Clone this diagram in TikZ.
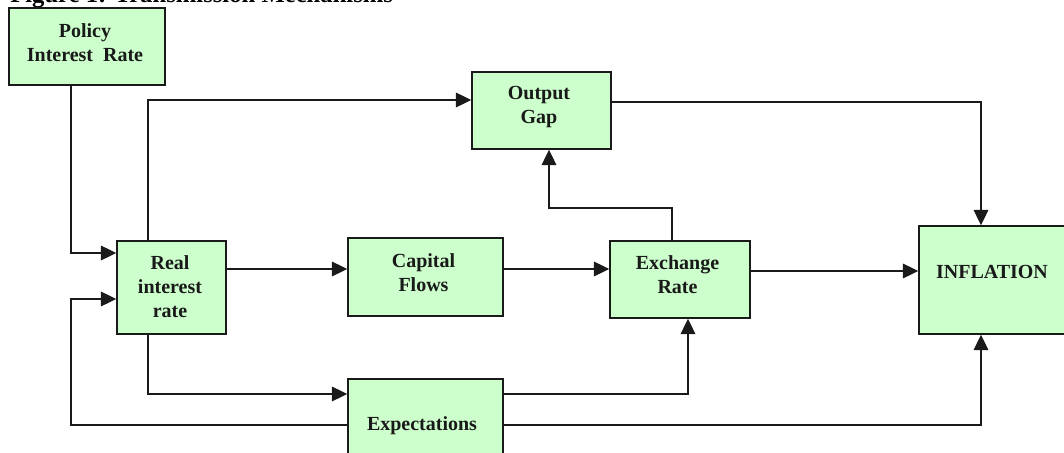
\documentclass[tikz,border=0pt]{standalone}
\usepackage{fontspec}
\setmainfont{Liberation Serif}
\usetikzlibrary{arrows.meta,fit}
\definecolor{boxgreen}{HTML}{CCFFCC}
\definecolor{edge}{HTML}{1A1A1A}
\begin{document}
\begin{tikzpicture}[x=0.75pt,y=-0.75pt,
  box/.style={draw=edge, line width=1.1pt, fill=boxgreen, inner sep=0pt},
  lbl/.style={font=\bfseries\fontsize{15}{18}\selectfont, align=center, inner sep=0pt, text=black!90},
  arr/.style={draw=edge, line width=0.8pt, -{Triangle[length=11.5pt,width=11pt]}},
  link/.style={draw=edge, line width=0.8pt}]
\useasboundingbox (0,0) rectangle (1064,453);

% title (cut at the top)
\node[anchor=base west, inner sep=0pt, font=\bfseries\fontsize{18.5}{22}\selectfont] (title) at (10,3) {Figure 1: Transmission Mechanisms};

% boxes
\node[box, fit={(9,8)(165,85)}] (pol) {};
\node[box, fit={(117,241)(226,334)}] (real) {};
\node[box, fit={(348,238)(503,316)}] (cap) {};
\node[box, fit={(610,241)(750,318)}] (exch) {};
\node[box, fit={(472,72)(611,149)}] (out) {};
\node[box, fit={(919,226)(1072,334)}] (infl) {};
\node[box, fit={(348,379)(503,472)}] (exp) {};

% labels
\node[lbl] (polT) at (85,43) {Policy\\Interest\ \ Rate};
\node[lbl] (realT) at (170,287) {Real\\interest\\rate};
\node[lbl] (capT) at (423.5,272.5) {Capital\\Flows};
\node[lbl] (exchT) at (677.5,275) {Exchange\\Rate};
\node[lbl] (outT) at (539,107) {Output\\Gap};
\node[lbl] (inflT) at (992,272) {INFLATION};
\node[lbl] (expT) at (422,426) {Expectations};

% bend points
\coordinate (p1) at (71,253);
\coordinate (p2) at (148,100);
\coordinate (p3) at (981,102);
\coordinate (p4a) at (672,208);
\coordinate (p4b) at (549,208);
\coordinate (p5) at (0,269);
\coordinate (p7) at (0,271);
\coordinate (p8) at (148,394);
\coordinate (p9) at (688,394);
\coordinate (p10) at (981,425);
\coordinate (p11a) at (71,425);
\coordinate (p11b) at (71,299);

% connectors
\draw[arr] (pol.south -| p1) |- (real.west |- p1);
\draw[arr] (real.north -| p2) |- (out.west |- p2);
\draw[arr] (out.east |- p3) -| (infl.north -| p3);
\draw[arr] (exch.north -| p4a) -- (p4a) -- (p4b) -- (out.south -| p4b);
\draw[arr] (real.east |- p5) -- (cap.west |- p5);
\draw[arr] (cap.east |- p5) -- (exch.west |- p5);
\draw[arr] (exch.east |- p7) -- (infl.west |- p7);
\draw[arr] (real.south -| p8) |- (exp.west |- p8);
\draw[arr] (exp.east |- p9) -| (exch.south -| p9);
\draw[arr] (exp.east |- p10) -| (infl.south -| p10);
\draw[arr] (exp.west |- p11a) -- (p11a) -- (p11b) -- (real.west |- p11b);
\end{tikzpicture}
\end{document}
